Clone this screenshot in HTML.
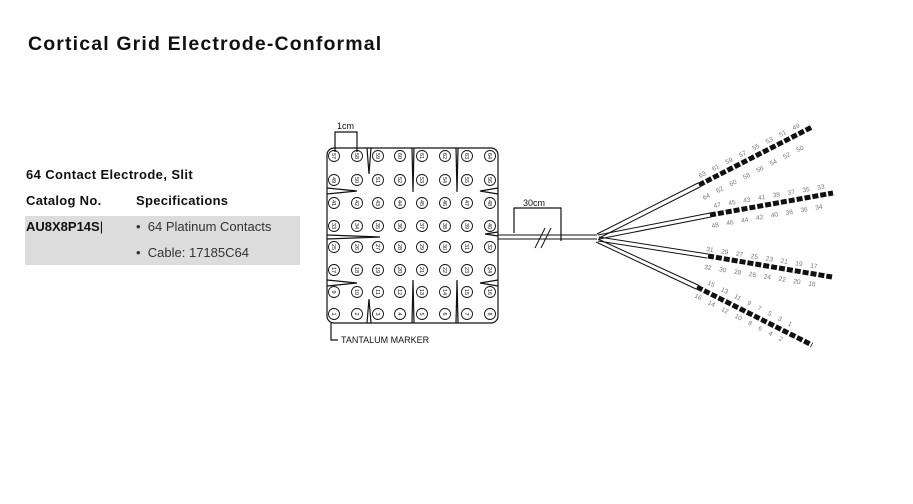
<!DOCTYPE html>
<html><head><meta charset="utf-8"><style>
body{margin:0;width:913px;height:504px;background:#fff;position:relative;font-family:"Liberation Sans",sans-serif;color:#111;overflow:hidden}
.a{position:absolute;white-space:nowrap}
</style></head><body>
<div class="a" style="left:28px;top:33px;font-size:19.5px;font-weight:bold;letter-spacing:1.15px">Cortical Grid Electrode-Conformal</div>
<div class="a" style="left:26px;top:167px;font-size:13px;font-weight:bold;letter-spacing:0.4px">64 Contact Electrode, Slit</div>
<div class="a" style="left:26px;top:193px;font-size:13px;font-weight:bold;letter-spacing:0.3px">Catalog No.</div>
<div class="a" style="left:136px;top:193px;font-size:13px;font-weight:bold;letter-spacing:0.3px">Specifications</div>
<div class="a" style="left:25px;top:216px;width:275px;height:49px;background:#dcdcdc"></div>
<div class="a" style="left:26px;top:219px;font-size:13px;font-weight:bold">AU8X8P14S<span style="font-weight:normal">|</span></div>
<div class="a" style="left:136px;top:219px;font-size:13px;color:#333">•&nbsp; 64 Platinum Contacts</div>
<div class="a" style="left:136px;top:245px;font-size:13px;color:#333">•&nbsp; Cable: 17185C64</div>
<svg class="a" style="left:0;top:0" width="913" height="504" viewBox="0 0 913 504">
<g fill="none" stroke="#111" stroke-width="1.2">
<path d="M335 152 V132 H357 V152"/>
<rect x="327" y="148" width="171" height="175" rx="7"/>
<path d="M367 148 L369 174 L371 148"/>
<path d="M412 148 L413 192 L414 148"/>
<path d="M456 148 L457 192 L458 148"/>
<path d="M367 323 L369 299 L371 323"/>
<path d="M412 323 L413 280 L414 323"/>
<path d="M456 323 L457 280 L458 323"/>
<path d="M327 188 L357 191 L327 194"/>
<path d="M327 235 L380 237 L327 239"/>
<path d="M327 280 L357 283 L327 286"/>
<path d="M498 188 L480 191 L498 194"/>
<path d="M498 232 L485 234 L498 236"/>
<path d="M498 280 L480 283 L498 286"/>
<path d="M331 323 V340 H338"/>
<path d="M498 235 H597 M498 239 H597" stroke-width="1"/>
<path d="M514 233 V208 H561 V241"/>
<path d="M535 248 L545 228 M541 248 L551 228" stroke-width="1"/>
<g stroke-width="1">
<path d="M597 234 L698 183 M599 238 L700 187"/>
<path d="M598 235 L710 213 M599 239 L711 217"/>
<path d="M599 237 L708 254 M598 241 L707 258"/>
<path d="M598 239 L698 285 M596 242 L696 289"/>
</g>
</g>
<g stroke="#111" stroke-width="5" stroke-dasharray="6 2">
<path d="M699 185 L812 127"/>
<path d="M710 215 L833 193"/>
<path d="M708 256 L832 277"/>
<path d="M697 287 L812 345"/>
</g>
<g font-size="6.5" fill="#777" font-family="Liberation Sans,sans-serif" word-spacing="6">
<text x="700" y="178" transform="rotate(-27 700 178)">63 61 59 57 55 53 51 49</text>
<text x="704" y="200" transform="rotate(-27 704 200)">64 62 60 58 56 54 52 50</text>
<text x="714" y="208" transform="rotate(-10 714 208)">47 45 43 41 39 37 35 33</text>
<text x="712" y="228" transform="rotate(-10 712 228)">48 46 44 42 40 38 36 34</text>
<text x="706" y="251" transform="rotate(9 706 251)">31 29 27 25 23 21 19 17</text>
<text x="704" y="269" transform="rotate(9 704 269)">32 30 28 26 24 22 20 18</text>
<text x="707" y="284" transform="rotate(27 707 284)">15 13 11 9 7 5 3 1</text>
<text x="694" y="297" transform="rotate(27 694 297)">16 14 12 10 8 6 4 2</text>
</g>
<g font-size="9" fill="#111" font-family="Liberation Sans,sans-serif">
<text x="337" y="129">1cm</text>
<text x="523" y="206">30cm</text>
<text x="341" y="343">TANTALUM MARKER</text>
</g>
<g id="contacts" fill="none" stroke="#111" stroke-width="0.9"></g>
<g id="nums" font-size="5.5" fill="#111" text-anchor="middle" font-family="Liberation Sans,sans-serif"></g>
</svg>
<script>
var xs=[334,357,378,400,422,445,467,490],ys=[156,180,203,226,247,270,292,314];
var c=document.getElementById('contacts'),n=document.getElementById('nums'),ns='http://www.w3.org/2000/svg';
for(var r=0;r<8;r++)for(var i=0;i<8;i++){var e=document.createElementNS(ns,'circle');e.setAttribute('cx',xs[i]);e.setAttribute('cy',ys[r]);e.setAttribute('r',5.5);c.appendChild(e);
var t=document.createElementNS(ns,'text');t.setAttribute('x',xs[i]);t.setAttribute('y',ys[r]+2);t.setAttribute('transform','rotate(90 '+xs[i]+' '+ys[r]+')');t.textContent=(7-r)*8+i+1;n.appendChild(t);}
</script>
</body></html>
